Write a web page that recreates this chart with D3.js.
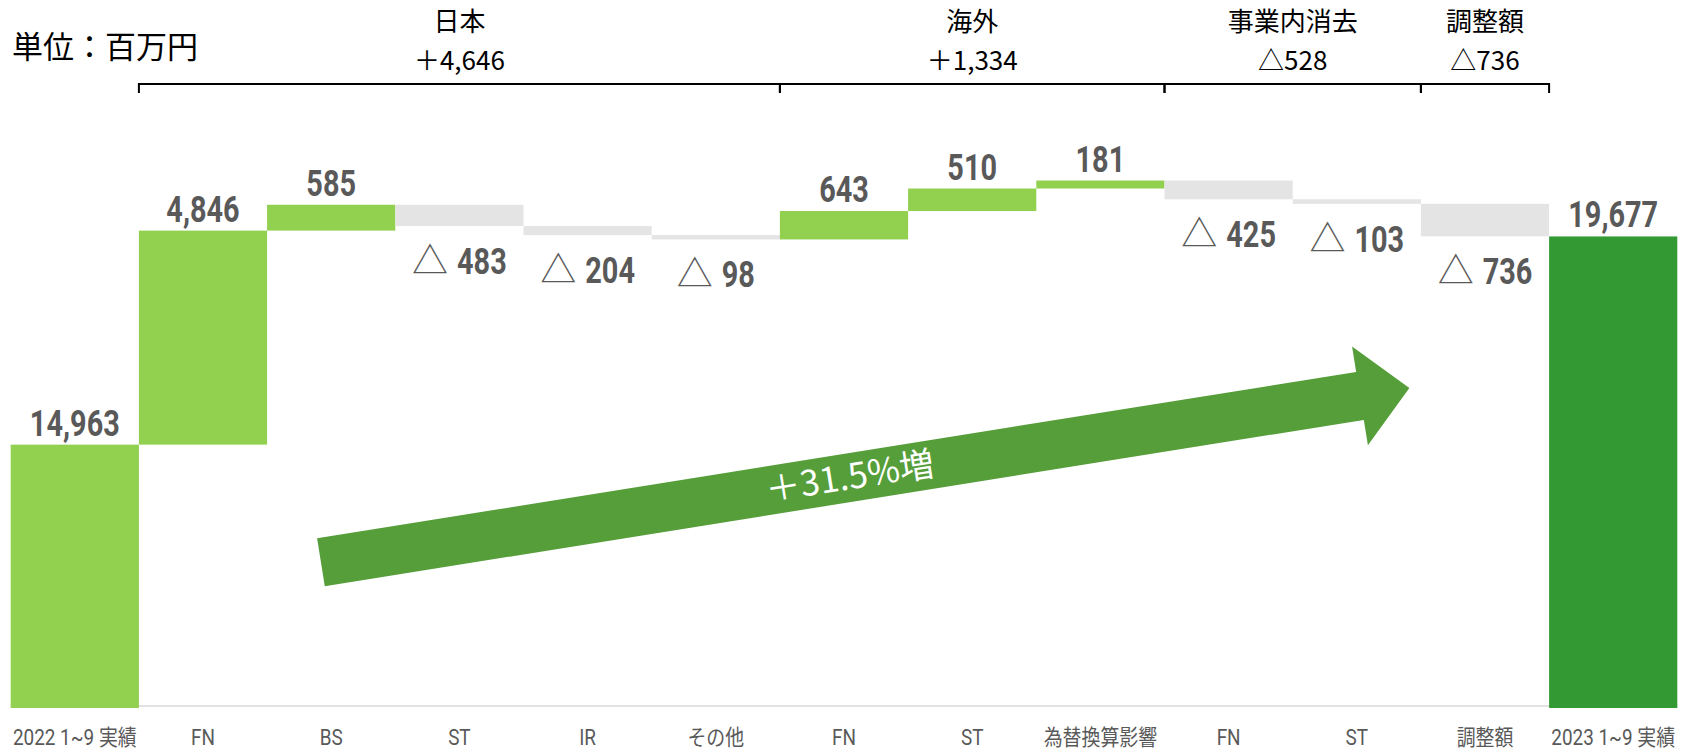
<!DOCTYPE html>
<html lang="ja">
<head>
<meta charset="utf-8">
<script src="https://cdn.jsdelivr.net/npm/d3@7"></script>
<style>
  html, body { margin: 0; padding: 0; background: #ffffff; }
  svg { display: block; }
</style>
</head>
<body>
<svg id="chart" width="1687" height="752"></svg>
<script>
// Bridge of sales: 2022 Jan–Sep actual to 2023 Jan–Sep actual (million yen)
const categories = ["2022 1~9 実績", "FN", "BS", "ST", "IR", "その他", "FN", "ST", "為替換算影響", "FN", "ST", "調整額", "2023 1~9 実績"];
const values = [14963, 4846, 585, -483, -204, -98, 643, 510, 181, -425, -103, -736, 19677];
const kinds = ["start", "step", "step", "step", "step", "step", "step", "step", "step", "step", "step", "step", "end"];

// Segment brackets above the bars
const groupNames = ["日本", "海外", "事業内消去", "調整額"];
const groupTotals = ["＋4,646", "＋1,334", "△528", "△736"];
const groupFirst = [1, 6, 9, 11];
const groupLast = [5, 8, 10, 11];

// Growth arrow: [band position, value] for tail and tip
const arrowTail = [2.42, 12300];
const arrowTip = [10.91, 16245];
const arrowText = "＋31.5%増";

const unitText = "単位：百万円";

const COLORS = { start: "#92d050", up: "#92d050", down: "#e4e4e4", end: "#339933", arrow: "#559e3a", label: "#595959" };
const NUM_FONT = "Roboto, 'Noto Sans', sans-serif";
const JP_FONT = "'Noto Sans CJK JP', 'Noto Sans', sans-serif";
const NUM_SQUEEZE = 0.78;   // narrow look for the bold value labels
const CAT_SQUEEZE = 0.86;   // narrow look for category names

const svg = d3.select("#chart");

const x = d3.scaleBand().domain(d3.range(categories.length)).range([10.7, 1677.3]).paddingInner(0).paddingOuter(0);
const y = d3.scaleLinear().domain([9000, 21000]).range([708, 178]);
const bandPos = u => x.range()[0] + u * x.step();

// running totals for the floating bars
let running = 0;
const bars = values.map((v, i) => {
  let lo, hi, kind;
  if (kinds[i] === "start" || kinds[i] === "end") {
    lo = y.domain()[0]; hi = v; kind = kinds[i]; running = v;
  } else {
    const next = running + v;
    lo = Math.min(running, next); hi = Math.max(running, next);
    kind = v >= 0 ? "up" : "down";
    running = next;
  }
  return { i, v, lo, hi, kind };
});

// baseline
svg.append("line")
  .attr("x1", x.range()[0]).attr("x2", x.range()[1])
  .attr("y1", y(y.domain()[0]) - 2).attr("y2", y(y.domain()[0]) - 2)
  .attr("stroke", "#d9d9d9").attr("stroke-width", 1.5);

svg.append("g").selectAll("rect").data(bars).join("rect")
  .attr("x", d => x(d.i))
  .attr("width", x.bandwidth())
  .attr("y", d => y(d.hi))
  .attr("height", d => Math.max(1, y(d.lo) - y(d.hi)))
  .attr("fill", d => COLORS[d.kind]);

// value labels: positives above the bar, decreases below with a △ mark
const fmt = d3.format(",");
const labels = svg.append("g").selectAll("g").data(bars).join("g")
  .attr("transform", d => `translate(${x(d.i) + x.bandwidth() / 2},${d.v >= 0 ? y(d.hi) - 9 : y(d.lo) + 48})`);
labels.each(function(d) {
  const g = d3.select(this);
  const numG = g.append("g");
  const num = numG.append("text")
    .attr("fill", COLORS.label)
    .attr("font-family", NUM_FONT)
    .attr("font-weight", "bold")
    .attr("font-size", 37)
    .text(fmt(Math.abs(d.v)));
  if (d.v >= 0) {
    num.attr("text-anchor", "middle");
    numG.attr("transform", `scale(${NUM_SQUEEZE},1)`);
  } else {
    const tri = g.append("text")
      .attr("fill", COLORS.label)
      .attr("font-family", JP_FONT)
      .attr("font-size", 36)
      .text("△");
    const wTri = tri.node().getComputedTextLength();
    const wNum = num.node().getComputedTextLength() * NUM_SQUEEZE;
    const gap = 9;
    const left = -(wTri + gap + wNum) / 2;
    tri.attr("x", left);
    numG.attr("transform", `translate(${left + wTri + gap},0) scale(${NUM_SQUEEZE},1)`);
  }
});

// category axis
const axis = d3.axisBottom(x).tickSize(0).tickPadding(0).tickFormat(i => categories[i]);
const ax = svg.append("g").attr("transform", `translate(0, 745)`).call(axis);
ax.select(".domain").remove();
ax.selectAll(".tick text")
  .attr("dy", 0).attr("y", 0)
  .attr("transform", `scale(${CAT_SQUEEZE},1)`)
  .attr("fill", COLORS.label)
  .attr("font-family", NUM_FONT + ", " + JP_FONT)
  .attr("font-size", 22);

// brackets with segment names and totals
const bracketY = 84, tick = 9;
groupNames.forEach((name, g) => {
  const x0 = x(groupFirst[g]);
  const x1 = x(groupLast[g]) + x.bandwidth();
  svg.append("path")
    .attr("d", `M${x0},${bracketY + tick}V${bracketY}H${x1}V${bracketY + tick}`)
    .attr("fill", "none").attr("stroke", "#000").attr("stroke-width", 2);
  const cx = (x0 + x1) / 2;
  svg.append("text").attr("x", cx).attr("y", 31)
    .attr("text-anchor", "middle").attr("font-family", JP_FONT).attr("font-size", 26).attr("fill", "#000")
    .text(name);
  svg.append("text").attr("x", cx).attr("y", 70)
    .attr("text-anchor", "middle").attr("font-family", JP_FONT).attr("font-size", 26).attr("fill", "#000")
    .text(groupTotals[g]);
});

svg.append("text").attr("x", 12).attr("y", 58)
  .attr("font-family", JP_FONT).attr("font-size", 31).attr("fill", "#000")
  .text(unitText);

// growth arrow
const ax0 = bandPos(arrowTail[0]), ay0 = y(arrowTail[1]);
const ax1 = bandPos(arrowTip[0]), ay1 = y(arrowTip[1]);
const L = Math.hypot(ax1 - ax0, ay1 - ay0);
const ang = Math.atan2(ay1 - ay0, ax1 - ax0) * 180 / Math.PI;
const shaft = 24.3, headLen = 50, headHalf = 50;
const arrow = svg.append("g").attr("transform", `translate(${ax0},${ay0}) rotate(${ang})`);
arrow.append("path")
  .attr("d", `M0,${-shaft}H${L - headLen}V${-headHalf}L${L},0L${L - headLen},${headHalf}V${shaft}H0Z`)
  .attr("fill", COLORS.arrow);
arrow.append("text")
  .attr("x", L * 0.486).attr("y", -4)
  .attr("text-anchor", "middle").attr("dominant-baseline", "central")
  .attr("font-family", JP_FONT).attr("font-size", 35).attr("fill", "#ffffff")
  .text(arrowText);
</script>
</body>
</html>
